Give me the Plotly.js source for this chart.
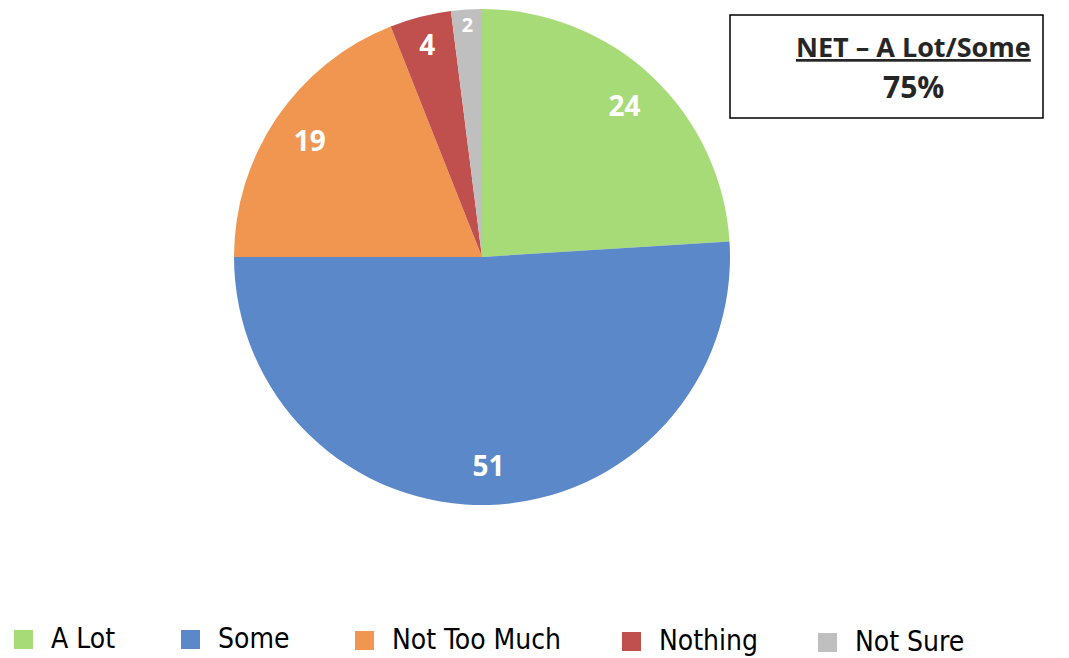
<!DOCTYPE html>
<html>
<head>
<meta charset="utf-8">
<script src="https://cdn.plot.ly/plotly-3.0.1.min.js"></script>
<style>html,body{margin:0;padding:0;background:#fff;}#chart{width:1069px;height:658px;}</style>
</head>
<body>
<div id="chart"></div>
<script>
const categories = ["A Lot", "Some", "Not Too Much", "Nothing", "Not Sure"];
const values = [24, 51, 19, 4, 2];
const colors = ["#A6DB78", "#5B88C8", "#F09651", "#C0504D", "#BFBFBF"];
const netLabel = "NET – A Lot/Some";
const netValue = "75%";

const W = 1069, H = 658;
const px = x => x / W;
const py = y => 1 - y / H;

// legend layout (pixel positions of each entry's swatch)
const legendX = [14, 181, 355, 622, 818];
const legendY = [630, 630, 631, 632, 633];

const shapes = [{
  type: "rect", xref: "paper", yref: "paper",
  x0: px(730), x1: px(1043), y0: py(118), y1: py(15),
  line: {color: "#000", width: 1.5}, fillcolor: "rgba(0,0,0,0)"
}];
const annotations = [
  {xref: "paper", yref: "paper", x: px(913), y: py(46), text: "<u>" + netLabel + "</u>", showarrow: false,
   font: {family: "Open Sans, Liberation Sans, sans-serif", size: 27, color: "#262626", weight: 700}, xanchor: "center", yanchor: "middle"},
  {xref: "paper", yref: "paper", x: px(913), y: py(87), text: "<b>" + netValue + "</b>", showarrow: false,
   font: {family: "Open Sans, Liberation Sans, sans-serif", size: 30, color: "#262626"}, xanchor: "center", yanchor: "middle"}
];
categories.forEach((c, i) => {
  shapes.push({type: "rect", xref: "paper", yref: "paper",
    x0: px(legendX[i]), x1: px(legendX[i] + 19), y0: py(legendY[i] + 19), y1: py(legendY[i]),
    line: {width: 0}, fillcolor: colors[i]});
  annotations.push({xref: "paper", yref: "paper", x: px(legendX[i] + 35), y: py(legendY[i] + 8),
    text: c, showarrow: false, xanchor: "left", yanchor: "middle",
    font: {family: "Liberation Sans Narrow, DejaVu Sans Condensed, sans-serif", size: 28, color: "#000"}});
});

const dom = {x: [px(482 - 248), px(482 + 248)], y: [py(505), py(9)]};
const data = [{
  type: "pie",
  labels: categories,
  values: values,
  marker: {colors: colors, line: {width: 0}},
  sort: false,
  direction: "clockwise",
  rotation: 0,
  textinfo: "none",
  hoverinfo: "label+value",
  domain: dom
}, {
  // transparent ring that carries the value labels near the outer edge
  type: "pie",
  labels: categories,
  values: values,
  hole: 0.68,
  marker: {colors: categories.map(() => "rgba(0,0,0,0)"), line: {width: 0}},
  sort: false,
  direction: "clockwise",
  rotation: 0,
  textinfo: "value",
  textposition: "inside",
  insidetextorientation: "horizontal",
  textfont: {family: "Open Sans, Liberation Sans, sans-serif", size: 28, color: "#fff", weight: 700},
  hoverinfo: "skip",
  domain: dom
}];

const layout = {
  width: W, height: H,
  margin: {l: 0, r: 0, t: 0, b: 0},
  paper_bgcolor: "#fff",
  showlegend: false,
  shapes: shapes,
  annotations: annotations
};
Plotly.newPlot("chart", data, layout, {displayModeBar: false, staticPlot: true});
</script>
</body>
</html>
